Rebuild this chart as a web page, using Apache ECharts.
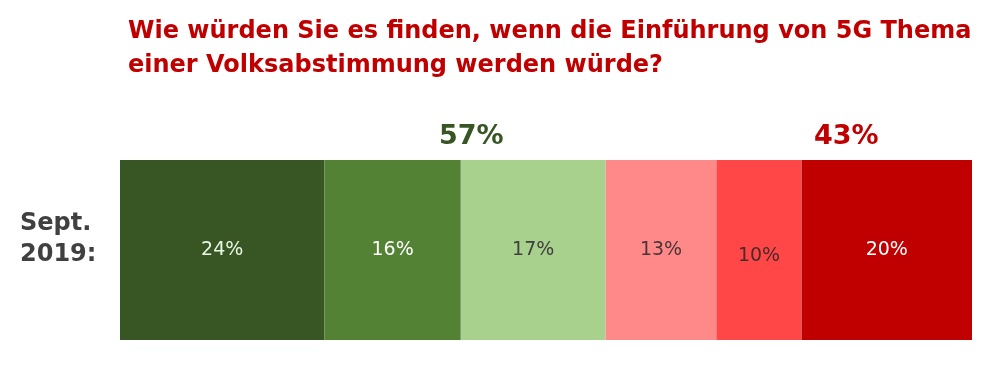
<!DOCTYPE html>
<html><head><meta charset="utf-8">
<script src="https://cdn.jsdelivr.net/npm/echarts@6/dist/echarts.min.js"></script>
<style>html,body{margin:0;padding:0;background:#fff}#c{width:985px;height:370px}</style>
</head><body><div id="c"></div>
<script>
const categories = ['Sept.\n2019:'];
const seriesNames = ['s1','s2','s3','s4','s5','s6'];
const values = [24, 16, 17, 13, 10, 20];
const colors = ['#375623','#548235','#A9D18E','#FF8989','#FF4747','#C00000'];
const labelColors = ['#EAF5E4','#FFFFFF','#404040','#4A3535','#4A2A2A','#FFFFFF'];
const groupTotals = ['57%','43%'];

const chart = echarts.init(document.getElementById('c'));
const FONT = '"DejaVu Sans",sans-serif';
const catStyle = {fontSize:24,fontWeight:'bold',color:'#404040',fontFamily:FONT,lineHeight:31};
chart.setOption({
  animation:false,
  title:{
    text:'Wie würden Sie es finden, wenn die Einführung von 5G Thema\neiner Volksabstimmung werden würde?',
    left:123, top:10,
    textStyle:{color:'#C00000',fontSize:24,fontWeight:'bold',fontFamily:FONT,lineHeight:34}
  },
  grid:{left:120,right:13,top:160,bottom:30},
  xAxis:{type:'value',min:0,max:100,show:false},
  yAxis:{type:'category',data:categories,axisLine:{show:false},axisTick:{show:false},
    axisLabel:{margin:100,align:'left',
      formatter:v=>v.split('\n').map(s=>'{a|'+s+'}').join('\n')+'\n{b| }',
      rich:{a:catStyle,b:{fontSize:10,lineHeight:21}}}},
  series: values.map((v,i)=>({
    name:seriesNames[i],type:'bar',stack:'t',barWidth:'100%',
    data:[v],itemStyle:{color:colors[i]},
    label:{show:true,position:'inside',formatter:'{c}%',color:labelColors[i],fontSize:19,fontFamily:FONT,
      offset:[0, i===4?6:0]}
  })),
  graphic:[
    {type:'text',left:439,top:123,style:{text:groupTotals[0],fill:'#375623',font:'bold 27px '+FONT}},
    {type:'text',left:814,top:123,style:{text:groupTotals[1],fill:'#C00000',font:'bold 27px '+FONT}}
  ]
});
</script></body></html>
